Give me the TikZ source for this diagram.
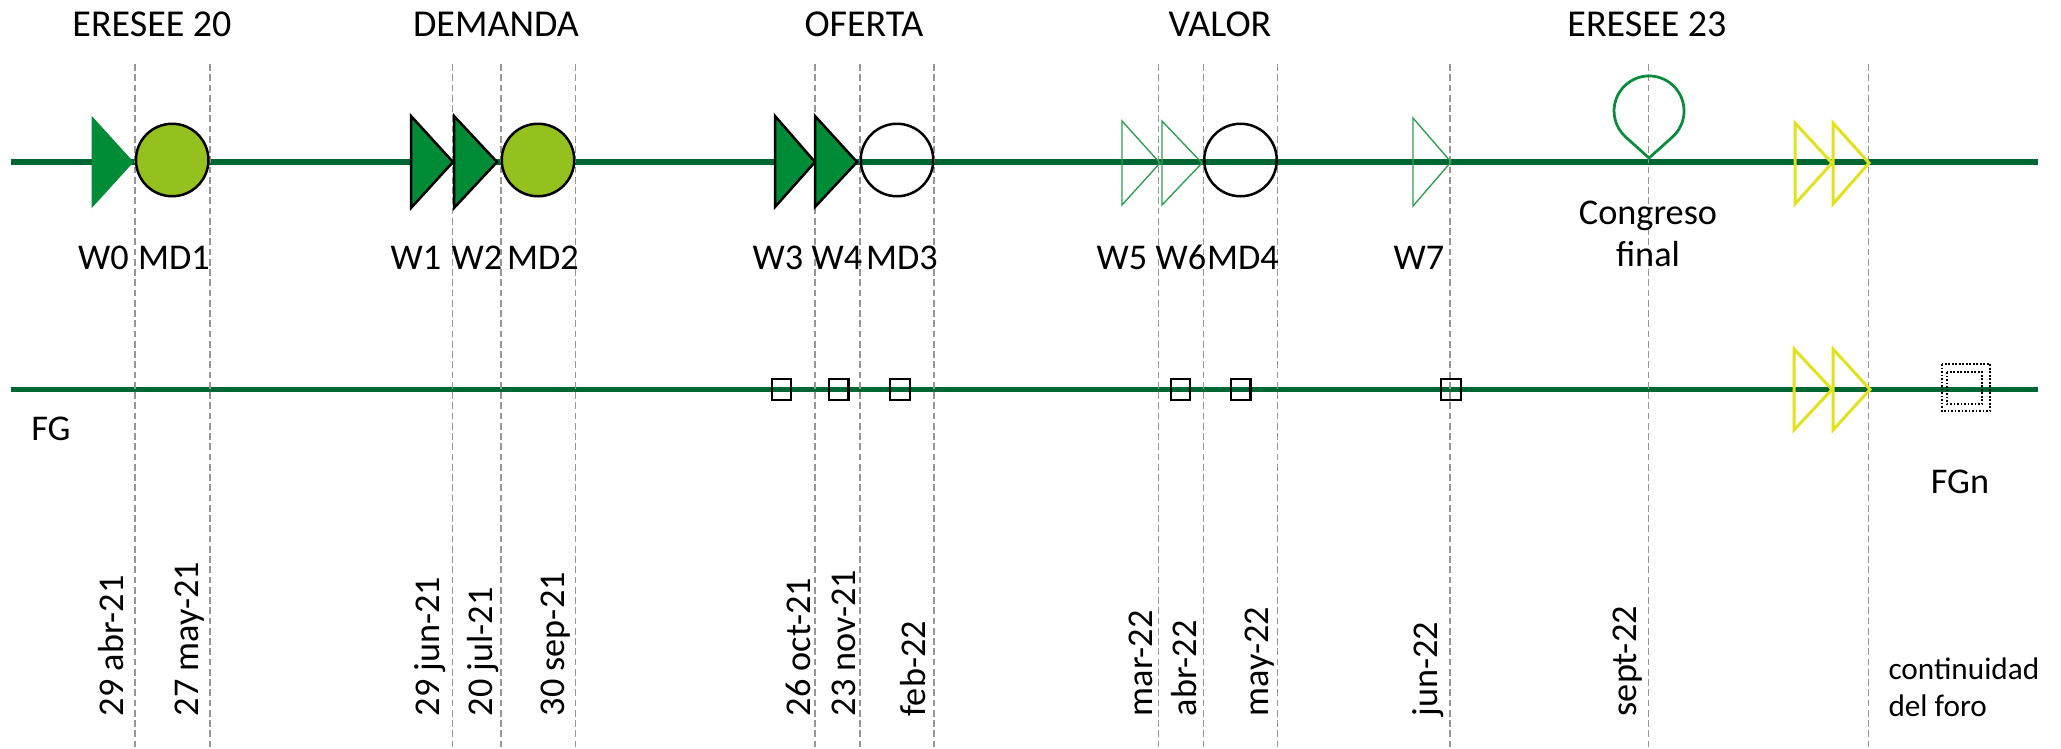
\documentclass[tikz,border=0pt]{standalone}
\usepackage{fontspec}
\setmainfont{Carlito}
\definecolor{mainline}{RGB}{0,102,51}
\definecolor{trifill}{RGB}{0,140,55}
\definecolor{mdgreen}{RGB}{149,193,31}
\definecolor{lightgr}{RGB}{46,160,80}
\definecolor{pingreen}{RGB}{10,140,60}
\definecolor{yellowc}{RGB}{225,225,30}
\definecolor{guidegray}{RGB}{150,150,150}
\begin{document}
\begin{tikzpicture}[x=0.4pt,y=-0.4pt,
  timeline/.style={draw=mainline,line width=2.1pt},
  guide/.style={draw=guidegray,line width=0.55pt,dash pattern=on 2.7pt off 1.4pt},
  wfill/.style={fill=trifill,draw=black,line width=1pt,line join=miter},
  wfillnb/.style={fill=trifill,draw=trifill,line width=0.4pt},
  wopen/.style={draw=lightgr,line width=0.55pt},
  yopen/.style={draw=yellowc,line width=1.2pt},
  mdfill/.style={circle,minimum size=29pt,inner sep=0pt,draw=black,line width=1pt,fill=mdgreen},
  mdopen/.style={circle,minimum size=29pt,inner sep=0pt,draw=black,line width=1pt},
  pinstyle/.style={draw=pingreen,line width=1.1pt},
  sqbox/.style={draw=black,line width=0.85pt,minimum width=7.8pt,minimum height=8.1pt,inner sep=0pt},
  dotbox/.style={draw=black,line width=0.7pt,dash pattern=on 0.7pt off 0.7pt},
  lbl/.style={font=\fontsize{14.5}{17}\selectfont,inner sep=0pt,anchor=base},
  hdr/.style={font=\fontsize{15.2}{18}\selectfont,inner sep=0pt,anchor=base},
  small/.style={font=\fontsize{12.5}{15}\selectfont,inner sep=0pt,anchor=base west},
  datelbl/.style={font=\fontsize{14.5}{17}\selectfont,inner sep=0pt,rotate=90,anchor=base west}]
\useasboundingbox (0,0) rectangle (2061,748);

% timelines
\coordinate (l1s) at (10.7,162);
\coordinate (l1e) at (2038,162);
\coordinate (l2s) at (10.7,389.5);
\coordinate (l2e) at (2038,389.5);
\draw[timeline] (l1s) -- (l1e);
\draw[timeline] (l2s) -- (l2e);

% guide lines
\foreach \gx/\gn in {135/g1,210/g2,452.5/g3,501/g4,575.5/g5,815/g6,860/g7,934/g8,1158.7/g9,1203.3/g10,1277.3/g11,1450/g12,1648.5/g13,1868.5/g14}{
  \coordinate (\gn t) at (\gx,64);
  \coordinate (\gn b) at (\gx,748);
  \draw[guide] (\gn t) -- (\gn b);
}

% filled triangles
\draw[wfillnb] (92,117) -- (133,162) -- (92,207) -- cycle;
\draw[wfill] (411,116) -- (453,162) -- (411,208) -- cycle;
\draw[wfill] (454,116) -- (497,162) -- (454,208) -- cycle;
\draw[wfill] (775,116) -- (815,162) -- (775,207) -- cycle;
\draw[wfill] (815,116) -- (857,162) -- (815,207) -- cycle;
% open triangles
\draw[wopen] (1122,121) -- (1160,163) -- (1122,205) -- cycle;
\draw[wopen] (1162,121) -- (1202,163) -- (1162,205) -- cycle;
\draw[wopen] (1413,118) -- (1451,162) -- (1413,206) -- cycle;
% yellow triangles
\draw[yopen] (1795,123) -- (1832,163) -- (1795,204) -- cycle;
\draw[yopen] (1833,123) -- (1869,163) -- (1833,204) -- cycle;
\draw[yopen] (1794,349) -- (1832,389.5) -- (1794,430) -- cycle;
\draw[yopen] (1833,349) -- (1870,389.5) -- (1833,430) -- cycle;

% circles
\node[mdfill] (md1) at (172.2,160) {};
\node[mdfill] (md2) at (538,160) {};
\node[mdopen] (md3) at (897,160) {};
\node[mdopen] (md4) at (1240.5,160) {};

% congress pin
\draw[pinstyle] (1649,158) -- (1672.4,137) arc[start angle=48.1,end angle=-228.1,radius=35] -- cycle;

% squares on FG line
\node[sqbox] (s1) at (781.6,389.5) {};
\node[sqbox] (s2) at (838.8,389.5) {};
\node[sqbox] (s3) at (900,389.5) {};
\node[sqbox] (s4) at (1180.6,389.5) {};
\node[sqbox] (s5) at (1240.8,389.5) {};
\node[sqbox] (s6) at (1451,389.5) {};
\draw[dotbox] (1942,364) rectangle (1990,411);
\draw[dotbox] (1947,372) rectangle (1982,404);

% headers
\node[hdr] (h1) at (152,36) {ERESEE 20};
\node[hdr] (h2) at (496,36) {DEMANDA};
\node[hdr] (h3) at (864,36) {OFERTA};
\node[hdr] (h4) at (1220,36) {VALOR};
\node[hdr] (h5) at (1647,36) {ERESEE 23};

% milestone labels
\node[lbl] (lw0) at (103.5,269) {W0};
\node[lbl] (lmd1) at (174,269) {MD1};
\node[lbl] (lw1) at (416,269) {W1};
\node[lbl] (lw2) at (477,269) {W2};
\node[lbl] (lmd2) at (543,269) {MD2};
\node[lbl] (lw3) at (778,269) {W3};
\node[lbl] (lw4) at (837,269) {W4};
\node[lbl] (lmd3) at (902,269) {MD3};
\node[lbl] (lw5) at (1122,269) {W5};
\node[lbl] (lw6) at (1181,269) {W6};
\node[lbl] (lmd4) at (1243,269) {MD4};
\node[lbl] (lw7) at (1419,269) {W7};
\node[lbl] (lc1) at (1648,224) {Congreso};
\node[lbl] (lc2) at (1648,266) {final};
\node[lbl] (lfg) at (51,440) {FG};
\node[lbl] (lfgn) at (1960,493) {FGn};

% dates
\node[datelbl] (d1) at (123.5,716.7) {29 abr-21};
\node[datelbl] (d2) at (198.5,716.7) {27 may-21};
\node[datelbl] (d3) at (439,716.7) {29 jun-21};
\node[datelbl] (d4) at (492.5,716.7) {20 jul-21};
\node[datelbl] (d5) at (564.5,716.7) {30 sep-21};
\node[datelbl] (d6) at (810,716.7) {26 oct-21};
\node[datelbl] (d7) at (855,716.7) {23 nov-21};
\node[datelbl] (d8) at (925,716.7) {feb-22};
\node[datelbl] (d9) at (1152,716.7) {mar-22};
\node[datelbl] (d10) at (1196.5,716.7) {abr-22};
\node[datelbl] (d11) at (1268,716.7) {may-22};
\node[datelbl] (d12) at (1437.5,716.7) {jun-22};
\node[datelbl] (d13) at (1636,716.7) {sept-22};

\node[small] (cf1) at (1888,679) {continuidad};
\node[small] (cf2) at (1888,716) {del foro};
\end{tikzpicture}
\end{document}
